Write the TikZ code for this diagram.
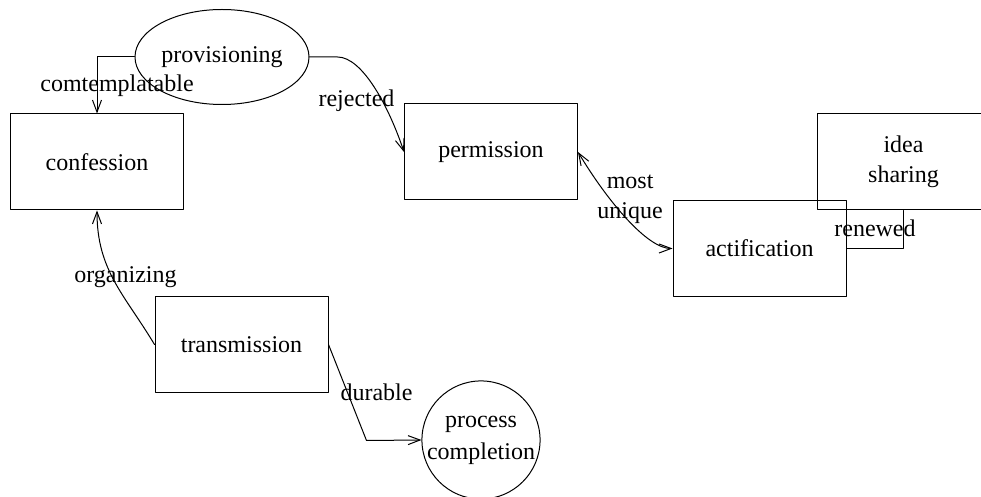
\documentclass[tikz,border=0pt]{standalone}
\usepackage{fontspec}
\setmainfont{Liberation Serif}
\usetikzlibrary{arrows.meta,shapes.geometric}
\begin{document}
\begin{tikzpicture}[x=0.5pt, y=-0.5pt, font=\fontsize{12}{15}\selectfont, line join=round, line cap=round, >={Straight Barb[length=6pt,width=4.5pt]},
	box/.style={draw, line width=0.5pt, minimum width=86.5pt, minimum height=48pt, inner sep=0pt},
	oval/.style={draw, line width=0.5pt, ellipse, minimum width=87pt, minimum height=47.5pt, inner sep=0pt},
	roundnode/.style={draw, line width=0.5pt, circle, minimum size=58pt, inner sep=0pt, align=center},
	link/.style={line width=0.5pt}]
			%%%%%%%%%%%%%%%%%%%%%%%%%%%%%%%%%
			\useasboundingbox (0,0) rectangle (981,497);
			%%%%%%%%%%%%%%%%%%%%%%%%%%%%%%%%%
			\node[oval] (prov) at (222,57) {provisioning};
			\node[box] (conf) at (97,162) {confession};
			\node[box] (perm) at (491,152) {permission};
			\node[box] (act) at (759.5,248.5) {actification};
			\node[box, align=center] (idea) at (903.5,162) {idea\\sharing};
			\node[box] (trans) at (241.5,344.5) {transmission};
			\node[roundnode] (done) at (481,440) {process\\[1pt]completion};
			%%%%%%%%%%%%%%%%%%%%%%%%%%%%%%%%%
			\draw[link, ->] (prov.west) -| node[pos=0.75, xshift=10pt] {comtemplatable} (conf.north);
			\draw[link, ->] (prov.east) -- ++(28,0) .. controls +(25,0) and +(-15,-45) .. node[pos=0.5, xshift=-9pt, yshift=-6.5pt] {rejected} (perm.west);
			\draw[link, <->] (perm.east) .. controls +(30,50) and +(-25,0) .. node[pos=0.5, align=center, xshift=1.5pt, yshift=10pt] {most\\unique} (act.west);
			\draw[link] (act.east) -| node[pos=0.25, yshift=10pt] {renewed} (idea.south);
			\draw[link, ->] (trans.west) .. controls +(-30,-50) and +(0,60) .. node[pos=0.5, xshift=5.5pt, yshift=2pt] {organizing} (conf.south);
			\draw[link, ->] (trans.east) -- node[xshift=14.5pt] {durable} ++(38,96) -- (done.west);
			%%%%%%%%%%%%%%%%%%%%%%%%%%%%%%%%%
		\end{tikzpicture}
\end{document}
